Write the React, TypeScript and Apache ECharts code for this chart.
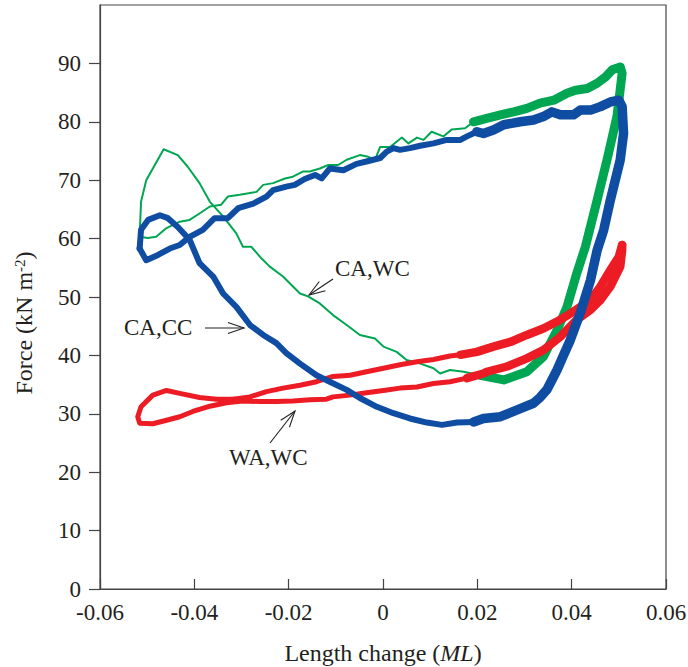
import React, { useEffect, useRef } from 'react';
import * as echarts from 'echarts';

type P = [number, number];

const yTickValues = [0, 10, 20, 30, 40, 50, 60, 70, 80, 90];

// CA,WC (green) — thin outgoing limb, thick right-hand part, thin return limb
const caWcOut: P[] = [
  [-0.0516, 60.3], [-0.0513, 66.3], [-0.0502, 70.0], [-0.0465, 75.3], [-0.0435, 74.3], [-0.0414, 72.3],
  [-0.0389, 69.5], [-0.0367, 66.3], [-0.0339, 63.8], [-0.0311, 60.9], [-0.0297, 58.6], [-0.0279, 58.6],
  [-0.0261, 56.9], [-0.024, 55.2], [-0.0212, 53.5], [-0.0176, 50.6], [-0.0159, 50.1], [-0.0134, 48.9],
  [-0.0106, 46.9], [-0.0077, 45.2], [-0.0049, 43.5], [-0.0017, 42.9], [0.0001, 41.5], [0.0029, 40.6],
  [0.005, 39.2], [0.0079, 38.6], [0.0107, 37.8], [0.0121, 36.9], [0.0142, 37.5], [0.0171, 37.2], [0.0206, 36.6],
];
const caWcThick: P[] = [
  [0.0206, 36.6], [0.0256, 35.8], [0.0305, 37.2], [0.034, 39.8], [0.0369, 44.3], [0.039, 48.3], [0.0411, 54.1],
  [0.0429, 58.6], [0.0454, 66.6], [0.0475, 73.5], [0.0496, 80.9], [0.0507, 88.3], [0.0503, 89.4], [0.0486, 88.9],
  [0.0472, 87.7], [0.0454, 86.6], [0.0433, 85.7], [0.0408, 85.4], [0.039, 84.9], [0.0362, 83.7], [0.0333, 83.2],
  [0.0305, 82.3], [0.0277, 81.7], [0.0249, 81.2], [0.022, 80.6], [0.0192, 80.0],
];
const caWcBack: P[] = [
  [0.0192, 80.0], [0.0174, 78.9], [0.0146, 78.7], [0.0128, 77.5], [0.0103, 78.3], [0.0086, 76.9], [0.0072, 77.3],
  [0.0054, 76.3], [0.004, 77.3], [0.0015, 75.7], [-0.0006, 75.7], [-0.0017, 73.5], [-0.0031, 74.0], [-0.0049, 74.3],
  [-0.0077, 73.5], [-0.0095, 72.6], [-0.0116, 72.6], [-0.0134, 72.0], [-0.0155, 71.5], [-0.0169, 71.5],
  [-0.0191, 70.6], [-0.0208, 70.3], [-0.0233, 69.5], [-0.0254, 69.2], [-0.0268, 68.0], [-0.0304, 67.5],
  [-0.0329, 67.2], [-0.0343, 65.8], [-0.0367, 65.5], [-0.0389, 64.3], [-0.041, 63.2], [-0.0431, 62.9],
  [-0.0459, 61.8], [-0.0481, 60.3], [-0.0499, 60.1], [-0.0516, 60.3],
];

// CA,CC (blue)
const caCcOut: P[] = [
  [-0.0516, 58.3], [-0.0502, 56.3], [-0.0477, 57.2], [-0.0452, 58.3], [-0.0431, 58.9], [-0.041, 60.3],
  [-0.0382, 61.5], [-0.0357, 63.5], [-0.0329, 63.5], [-0.0307, 65.2], [-0.0275, 66.0], [-0.0247, 67.2],
  [-0.0233, 68.3], [-0.0205, 68.9], [-0.0187, 69.2], [-0.0166, 70.2], [-0.0144, 70.9], [-0.013, 70.3],
  [-0.0113, 72.0], [-0.0084, 71.7], [-0.0056, 72.8], [-0.0035, 73.2], [-0.0006, 73.8], [0.0008, 74.9],
  [0.0022, 75.5], [0.0036, 75.2], [0.0057, 75.5], [0.0079, 75.9], [0.0107, 76.3], [0.0135, 76.9],
  [0.0164, 76.9], [0.0178, 77.5], [0.0199, 78.3],
];
const caCcThick: P[] = [
  [0.0199, 78.3], [0.0213, 78.0], [0.0234, 78.6], [0.0256, 79.5], [0.0291, 80.0], [0.0319, 80.3], [0.034, 80.9],
  [0.0358, 81.7], [0.0376, 81.2], [0.0404, 81.2], [0.0418, 82.0], [0.044, 82.0], [0.0461, 82.6], [0.0482, 83.4],
  [0.05, 83.7], [0.0507, 82.6], [0.051, 78.0], [0.0503, 73.5], [0.0482, 66.6], [0.0468, 61.5], [0.0454, 58.0],
  [0.044, 52.9], [0.0418, 47.2], [0.0397, 42.6], [0.0382, 39.9], [0.0369, 37.5], [0.0348, 34.2], [0.0333, 32.8],
  [0.0319, 31.8], [0.0291, 30.9], [0.0249, 29.5], [0.0213, 29.2], [0.0192, 28.6],
];
const caCcBack: P[] = [
  [0.0192, 28.6], [0.0157, 28.5], [0.0125, 28.1], [0.0093, 28.5], [0.0057, 29.2], [0.0022, 30.1], [-0.0013, 31.2],
  [-0.0049, 32.7], [-0.0077, 34.1], [-0.0113, 35.5], [-0.0141, 36.6], [-0.0176, 38.6], [-0.0205, 40.4],
  [-0.0226, 42.1], [-0.0254, 43.5], [-0.0282, 45.2], [-0.0311, 48.3], [-0.0339, 50.6], [-0.036, 53.5],
  [-0.0389, 55.8], [-0.041, 59.8], [-0.0435, 62.0], [-0.0456, 63.5], [-0.0473, 64.0], [-0.0498, 63.2],
  [-0.0513, 61.5], [-0.0516, 58.3],
];

// WA,WC (red)
const waWcUpperThick: P[] = [
  [0.0507, 58.9], [0.05, 56.9], [0.0482, 54.6], [0.0461, 51.8], [0.044, 49.5], [0.0404, 47.5], [0.0369, 45.8],
  [0.034, 44.6], [0.0305, 43.5], [0.027, 42.3], [0.0234, 41.5], [0.0199, 40.6], [0.0164, 40.1],
];
const waWcLoop: P[] = [
  [0.0164, 40.1], [0.0142, 39.9], [0.0107, 39.3], [0.0072, 38.9], [0.0036, 38.4], [0.0001, 37.8], [-0.0035, 37.2],
  [-0.007, 36.6], [-0.0106, 36.4], [-0.0141, 35.5], [-0.0176, 34.9], [-0.0212, 34.4], [-0.0247, 33.8],
  [-0.0282, 32.9], [-0.0318, 32.5], [-0.0353, 32.5], [-0.0389, 32.8], [-0.0431, 33.5], [-0.0459, 34.0],
  [-0.0488, 33.2], [-0.0513, 31.2], [-0.052, 29.5], [-0.0516, 28.4], [-0.0488, 28.3], [-0.0459, 28.9],
  [-0.0431, 29.5], [-0.0403, 30.4], [-0.0367, 31.3], [-0.0332, 31.9], [-0.0297, 32.2], [-0.0261, 32.1],
  [-0.0226, 32.1], [-0.0191, 32.2], [-0.0155, 32.4], [-0.012, 32.5], [-0.0106, 32.9], [-0.007, 33.2],
  [-0.0035, 33.6], [0.0001, 34.0], [0.0036, 34.4], [0.0072, 34.6], [0.0107, 35.2], [0.0142, 35.5], [0.0178, 36.1],
];
const waWcLowerThick: P[] = [
  [0.0178, 36.1], [0.0213, 36.9], [0.022, 37.2], [0.0263, 38.1], [0.0305, 39.5], [0.034, 40.9], [0.0376, 43.2],
  [0.0411, 46.1], [0.044, 47.8], [0.0461, 49.5], [0.0482, 51.8], [0.0503, 55.2], [0.0507, 58.0], [0.0507, 58.9],
];

const GREEN = '#00a651';
const BLUE = '#0f4da2';
const RED = '#ed1c24';
const INK = '#231f20';
const FONT = '"Liberation Serif", "Times New Roman", serif';

function arrow(x1: number, y1: number, x2: number, y2: number) {
  const ang = Math.atan2(y2 - y1, x2 - x1);
  const len = 17;
  const spread = (19 * Math.PI) / 180;
  const b1 = [x2 - len * Math.cos(ang - spread), y2 - len * Math.sin(ang - spread)];
  const b2 = [x2 - len * Math.cos(ang + spread), y2 - len * Math.sin(ang + spread)];
  return [
    { type: 'line', shape: { x1, y1, x2, y2 }, style: { stroke: INK, lineWidth: 1.1 }, silent: true },
    { type: 'polyline', shape: { points: [b1, [x2, y2], b2] }, style: { stroke: INK, fill: null, lineWidth: 1.1 }, silent: true },
  ];
}

function line(data: P[], color: string, width: number) {
  return {
    type: 'line',
    data,
    showSymbol: false,
    symbol: 'none',
    silent: true,
    lineStyle: { color, width, cap: 'round', join: 'round' },
    emphasis: { disabled: true },
  };
}

export default function App() {
  const ref = useRef<HTMLDivElement>(null);
  useEffect(() => {
    const chart = echarts.init(ref.current!, null, { renderer: 'svg' });
    const labelText = { fontFamily: FONT, fontSize: 23, color: INK };
    chart.setOption({
      animation: false,
      grid: {
        left: 100, right: 22, top: 5, bottom: 78,
        containLabel: false, outerBoundsMode: 'none',
        show: true, borderColor: '#444', borderWidth: 1.2,
      },
      xAxis: {
        type: 'value',
        min: -0.06,
        max: 0.06,
        interval: 0.02,
        splitLine: { show: false },
        axisLine: { onZero: false, lineStyle: { color: '#444', width: 1.2 } },
        axisTick: { inside: true, length: 10, lineStyle: { color: '#444', width: 1.2 } },
        axisLabel: {
          ...labelText,
          margin: 12,
          formatter: (v: number) => (Math.abs(v) < 1e-9 ? '0' : v.toFixed(2)),
        },
        name: '{n|Length change (}{i|ML}{n|)}',
        nameLocation: 'middle',
        nameGap: 52,
        nameTextStyle: {
          rich: {
            n: { fontFamily: FONT, fontSize: 24, color: INK },
            i: { fontFamily: FONT, fontSize: 24, color: INK, fontStyle: 'italic' },
          },
        },
      },
      yAxis: {
        type: 'value',
        min: 0,
        max: 100,
        interval: 10,
        splitLine: { show: false },
        axisLine: { onZero: false, lineStyle: { color: '#444', width: 1.2 } },
        axisTick: { length: 11, customValues: yTickValues, lineStyle: { color: '#444', width: 1.2 } },
        axisLabel: { ...labelText, margin: 19, customValues: yTickValues },
        name: '{n|Force (kN m}{s|-2}{n|)}',
        nameLocation: 'middle',
        nameGap: 64,
        nameTextStyle: {
          padding: [0, 52, 0, 0],
          rich: {
            n: { fontFamily: FONT, fontSize: 24, color: INK },
            s: { fontFamily: FONT, fontSize: 15, color: INK, verticalAlign: 'top' },
          },
        },
      },
      series: [
        line(caWcOut, GREEN, 2),
        line(caWcBack, GREEN, 2),
        line(caWcThick, GREEN, 9),
        line(waWcLoop, RED, 5),
        line(waWcUpperThick, RED, 8.5),
        line(waWcLowerThick, RED, 8.5),
        line(caCcOut, BLUE, 6),
        line(caCcBack, BLUE, 6),
        line(caCcThick, BLUE, 9.5),
      ],
      graphic: [
        { type: 'text', left: 335, top: 257, silent: true, style: { text: 'CA,WC', font: `23px ${FONT}`, fill: INK } },
        { type: 'text', left: 124, top: 316, silent: true, style: { text: 'CA,CC', font: `23px ${FONT}`, fill: INK } },
        { type: 'text', left: 229, top: 446, silent: true, style: { text: 'WA,WC', font: `23px ${FONT}`, fill: INK } },
        ...arrow(333, 279, 309, 295),
        ...arrow(205, 328, 244, 328),
        ...arrow(270, 443, 295, 411),
      ],
    });
    return () => chart.dispose();
  }, []);
  return <div ref={ref} style={{ position: 'absolute', left: 0, top: 0, width: 688, height: 667 }} />;
}
